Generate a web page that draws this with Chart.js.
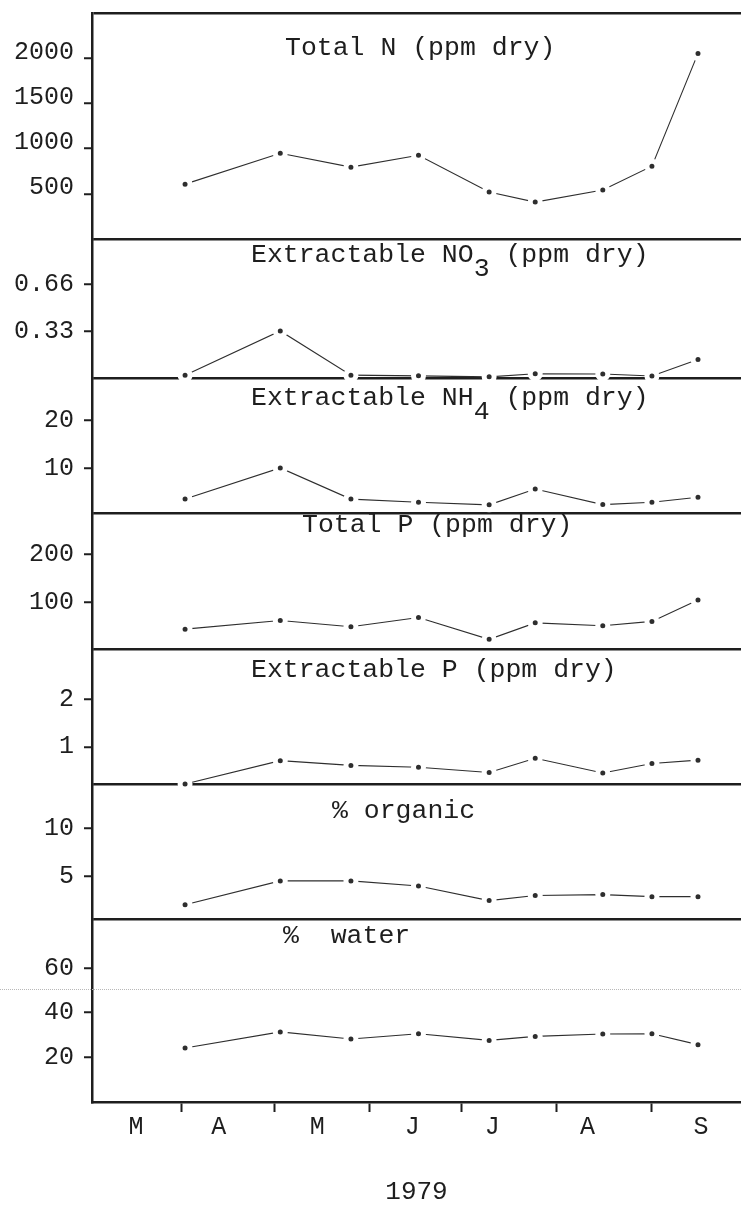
<!DOCTYPE html>
<html>
<head>
<meta charset="utf-8">
<title>Soil nutrients 1979</title>
<script src="https://cdn.jsdelivr.net/npm/chart.js@4.4.1/dist/chart.umd.min.js"></script>
<style>
  body { margin: 0; background: #fff; }
  #wrap { position: relative; width: 741px; height: 1205px; }
  #scanLine { position: absolute; left: 0; top: 989px; width: 741px; border-top: 1px dotted #b8b8b8; }
</style>
</head>
<body>
<div id="wrap">
  <canvas id="soilChart" width="741" height="1205"></canvas>
  <div id="scanLine"></div>
</div>
<script>
// 📅 Sampling dates (day of year, 1979) and the month axis
const sampleDays = [92, 123, 146, 168, 191, 206, 228, 244, 259];
const monthStartDays = [91, 121, 152, 182, 213, 244];
const monthLabelDays = [76, 103, 135, 166, 192, 223, 260];
const monthLabels = ['M', 'A', 'M', 'J', 'J', 'A', 'S'];

// 🧪 Measured values, one per sampling date
const totalN = [607, 949, 795, 927, 519, 408, 541, 806, 2053];
const extractableNO3 = [0.02, 0.33, 0.02, 0.015, 0.008, 0.03, 0.028, 0.014, 0.13];
const extractableNH4 = [3.5, 10, 3.5, 2.85, 2.3, 5.6, 2.35, 2.85, 3.9];
const totalP = [45, 63, 50, 69, 24, 58, 52, 61, 105];
const extractableP = [0.22, 0.71, 0.61, 0.57, 0.46, 0.76, 0.45, 0.65, 0.72];
const organicPct = [2.07, 4.55, 4.55, 4.03, 2.51, 3.03, 3.13, 2.92, 2.92];
const waterPct = [24.2, 31.4, 28.2, 30.6, 27.6, 29.4, 30.5, 30.6, 25.7];

// 📏 Labelled ticks for each panel
const totalNTicks = [500, 1000, 1500, 2000];
const no3Ticks = [0.33, 0.66];
const nh4Ticks = [10, 20];
const totalPTicks = [100, 200];
const extractablePTicks = [1, 2];
const organicTicks = [5, 10];
const waterTicks = [20, 40, 60];

const ink = '#1e1e1e';
const mono = '"Liberation Mono", "DejaVu Sans Mono", monospace';

// Panels listed top to bottom
const panels = [
  { id: 'yTotalN', values: totalN, ticks: totalNTicks, min: 0, max: 2500, weight: 226, labelOffset: -6,
    title: { pre: 'Total N (ppm dry)', x: 193, dy: 42 } },
  { id: 'yNO3', values: extractableNO3, ticks: no3Ticks, min: 0, max: 0.975, weight: 139,
    title: { pre: 'Extractable NO', sub: '3', post: ' (ppm dry)', x: 159, dy: 23 } },
  { id: 'yNH4', values: extractableNH4, ticks: nh4Ticks, min: 0.6, max: 28.75, weight: 135,
    title: { pre: 'Extractable NH', sub: '4', post: ' (ppm dry)', x: 159, dy: 27 } },
  { id: 'yTotalP', values: totalP, ticks: totalPTicks, min: 4, max: 285, weight: 136,
    title: { pre: 'Total P (ppm dry)', x: 210, dy: 19 } },
  { id: 'yExtP', values: extractableP, ticks: extractablePTicks, min: 0.22, max: 3.05, weight: 135,
    title: { pre: 'Extractable P (ppm dry)', x: 159, dy: 28 } },
  { id: 'yOrganic', values: organicPct, ticks: organicTicks, min: 0.6, max: 14.6, weight: 135,
    title: { pre: '% organic', x: 240, dy: 34 } },
  { id: 'yWater', values: waterPct, ticks: waterTicks, min: 0, max: 82, weight: 183,
    title: { pre: '%  water', x: 191, dy: 24 } }
];

// 🧱 One stacked y axis per panel; its top tick draws the divider line
function yAxis(panel) {
  const isTop = ctx => ctx.tick && ctx.tick.value === panel.max;
  return {
    type: 'linear',
    position: 'left',
    stack: 'soil',
    stackWeight: panel.weight,
    min: panel.min,
    max: panel.max,
    z: 1,
    border: { color: ink, width: 2.5 },
    grid: {
      drawOnChartArea: true,
      color: ctx => isTop(ctx) ? ink : 'transparent',
      lineWidth: 2.5,
      tickColor: ctx => isTop(ctx) ? 'transparent' : ink,
      tickLength: 8,
      tickWidth: 2
    },
    ticks: {
      autoSkip: false,
      padding: 10,
      color: ink,
      labelOffset: panel.labelOffset || 0,
      font: { family: mono, size: 25 },
      callback: v => v === panel.max ? '' : String(v)
    },
    afterBuildTicks: scale => {
      scale.ticks = panel.ticks.concat(panel.max).map(v => ({ value: v }));
    },
    afterFit: scale => {
      scale.width = 92;
      scale.paddingTop = 0;
      scale.paddingBottom = 0;
    }
  };
}

const xAxis = {
  type: 'linear',
  position: 'bottom',
  min: 61.7,
  max: 273,
  border: { color: ink, width: 2.5 },
  grid: {
    drawOnChartArea: false,
    tickLength: 10,
    tickWidth: 2,
    tickColor: ctx => monthStartDays.includes(ctx.tick.value) ? ink : 'transparent'
  },
  ticks: {
    autoSkip: false,
    maxRotation: 0,
    padding: 3,
    color: ink,
    font: { family: mono, size: 25, lineHeight: 1 },
    callback: v => {
      const i = monthLabelDays.indexOf(v);
      return i >= 0 ? monthLabels[i] : '';
    }
  },
  title: { display: true, text: '1979', color: ink, padding: 0, font: { family: mono, size: 26, lineHeight: 1 } },
  afterBuildTicks: scale => {
    scale.ticks = monthStartDays.concat(monthLabelDays).sort((a, b) => a - b).map(v => ({ value: v }));
  },
  afterFit: scale => {
    scale.height = 103;
    scale.paddingLeft = 0;
    scale.paddingRight = 0;
  }
};

// 🏷️ Panel headings written inside each panel
const panelTitles = {
  id: 'panelTitles',
  afterDraw(chart) {
    const ctx = chart.ctx;
    ctx.save();
    ctx.fillStyle = ink;
    ctx.font = '26.5px ' + mono;
    ctx.textBaseline = 'alphabetic';
    panels.forEach(p => {
      const scale = chart.scales[p.id];
      let x = chart.chartArea.left + p.title.x;
      const y = scale.top + p.title.dy;
      ctx.fillText(p.title.pre, x, y);
      if (p.title.sub) {
        x += ctx.measureText(p.title.pre).width;
        ctx.fillText(p.title.sub, x, y + 14);
        x += ctx.measureText(p.title.sub).width;
        ctx.fillText(p.title.post, x, y);
      }
    });
    ctx.restore();
  }
};

const scales = { x: xAxis };
panels.slice().reverse().forEach(p => { scales[p.id] = yAxis(p); });

new Chart(document.getElementById('soilChart').getContext('2d'), {
  type: 'line',
  data: {
    datasets: panels.map(p => ({
      label: p.id,
      xAxisID: 'x',
      yAxisID: p.id,
      data: sampleDays.map((d, i) => ({ x: d, y: p.values[i] })),
      borderColor: '#2e2e2e',
      borderWidth: 1.1,
      tension: 0,
      clip: false,
      // white ring leaves a small gap between each dot and its segments
      pointRadius: 5,
      pointHoverRadius: 5,
      pointBorderWidth: 5,
      pointBackgroundColor: '#2e2e2e',
      pointBorderColor: '#fff'
    }))
  },
  options: {
    responsive: false,
    animation: false,
    devicePixelRatio: 1,
    layout: { autoPadding: false, padding: { top: 13, right: 0, bottom: 0, left: 0 } },
    plugins: {
      legend: { display: false },
      tooltip: { enabled: false }
    },
    scales: scales
  },
  plugins: [panelTitles]
});
</script>
</body>
</html>
